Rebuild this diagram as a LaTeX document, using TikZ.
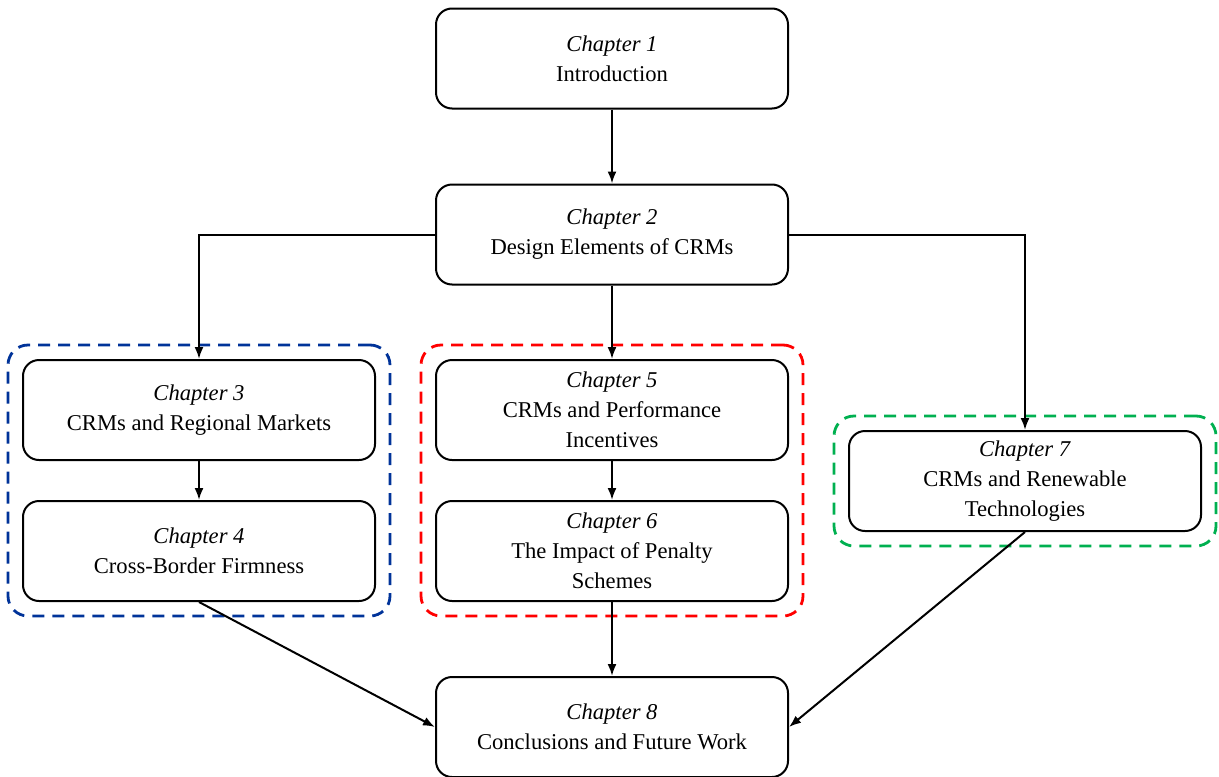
\documentclass[tikz,border=0pt]{standalone}
\usepackage{fontspec}
\setmainfont{Liberation Serif}
\usetikzlibrary{arrows.meta,fit}
\begin{document}
\begin{tikzpicture}[x=0.5pt,y=-0.5pt,
  chapbox/.style={draw=black, line width=1pt, rounded corners=8pt,
    minimum width=176pt, minimum height=50pt, align=center,
    font=\fontsize{11.3}{15}\selectfont, inner sep=2pt},
  conn/.style={draw=black, line width=1pt, -{Latex[length=6pt,width=4.5pt]}},
  grp/.style={dashed, dash pattern=on 6pt off 4pt, line width=1.4pt,
    rounded corners=10pt, inner sep=7pt}]
\useasboundingbox (0,0) rectangle (1219,776);
\definecolor{grpblue}{RGB}{0,51,153}
\definecolor{grpred}{RGB}{255,0,0}
\definecolor{grpgreen}{RGB}{0,176,80}

% chapter boxes
\node[chapbox] (c1) at (612,58.5) {\textit{Chapter 1}\\Introduction};
\node[chapbox] (c2) at (612,234.5) {\textit{Chapter 2}\\Design Elements of CRMs};
\node[chapbox] (c3) at (199,410) {\textit{Chapter 3}\\CRMs and Regional Markets};
\node[chapbox] (c4) at (199,551) {\textit{Chapter 4}\\Cross-Border Firmness};
\node[chapbox] (c5) at (612,410) {\textit{Chapter 5}\\CRMs and Performance\\Incentives};
\node[chapbox] (c6) at (612,551) {\textit{Chapter 6}\\The Impact of Penalty\\Schemes};
\node[chapbox] (c7) at (1025,481) {\textit{Chapter 7}\\CRMs and Renewable\\Technologies};
\node[chapbox] (c8) at (612,727) {\textit{Chapter 8}\\Conclusions and Future Work};

% dashed groupings
\node[grp, draw=grpblue, fit=(c3)(c4)] (g1) {};
\node[grp, draw=grpred, fit=(c5)(c6)] (g2) {};
\node[grp, draw=grpgreen, fit=(c7)] (g3) {};

% connectors
\draw[conn] (c1) -- (c2);
\draw[conn] (c2) -- (c5);
\draw[conn] (c2.west) -| (c3.north);
\draw[conn] (c2.east) -| (c7.north);
\draw[conn] (c3) -- (c4);
\draw[conn] (c5) -- (c6);
\draw[conn] (c6) -- (c8);
\draw[conn] (c4.south) -- (c8.west);
\draw[conn] (c7.south) -- (c8.east);
\end{tikzpicture}
\end{document}
